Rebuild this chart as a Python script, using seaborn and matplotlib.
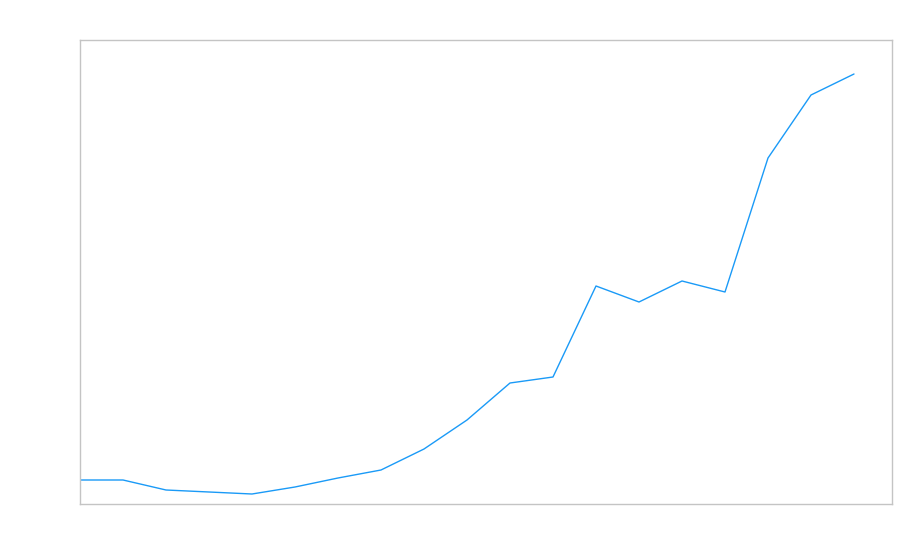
import matplotlib
matplotlib.use("Agg")
import matplotlib.pyplot as plt
import seaborn as sns
import pandas as pd

index = list(range(19))
values = [24, 24, 14, 12, 10, 17, 26, 34, 55, 84, 121, 127, 218, 202, 223, 212, 346, 409, 430]

sns.set_theme(style="white")
df = pd.DataFrame({"x": index, "y": values})

fig = plt.figure(figsize=(9, 5.6), dpi=100)
ax = fig.add_axes([80/900, 56/560, 812/900, 464/560])
sns.lineplot(data=df, x="x", y="y", ax=ax, color="#1a9af7", linewidth=1.0)
ax.set_xlim(0, 812/43)
ax.set_ylim(0, 464)
ax.set_xticks([])
ax.set_yticks([])
ax.set_xlabel("")
ax.set_ylabel("")
for s in ax.spines.values():
    s.set_color("#c4c4c4")
    s.set_linewidth(1.0)
fig.savefig("out.png", dpi=100)
